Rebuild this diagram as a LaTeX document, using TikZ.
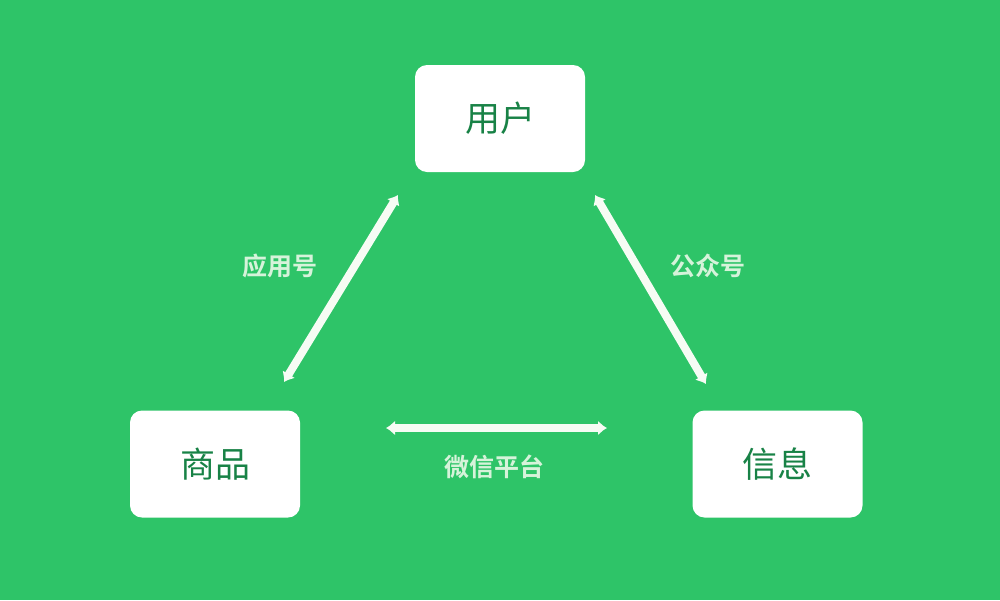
\documentclass[tikz,border=0pt]{standalone}
\usepackage{fontspec}
\newfontfamily\cjk{Noto Sans CJK SC}
\newfontfamily\cjkb{Noto Sans CJK SC Bold}
\usetikzlibrary{arrows.meta}
\definecolor{bg}{RGB}{46,196,104}
\definecolor{boxtext}{RGB}{24,130,70}
\definecolor{lbl}{RGB}{214,243,218}
\definecolor{arr}{RGB}{246,252,244}
\tikzset{
  card/.style={draw=none,fill=white,rounded corners=12pt,minimum width=170pt,minimum height=107pt,
    font=\cjk\fontsize{35}{38}\selectfont,text=boxtext},
  lab/.style={font=\cjkb\fontsize{25}{28}\selectfont,text=lbl},
  link/.style={draw=arr,line width=8pt,{Latex[length=9pt,width=15pt]}-{Latex[length=9pt,width=15pt]}}
}
\begin{document}
\begin{tikzpicture}[x=1pt,y=-1pt]
\fill[bg] (0,0) rectangle (1000,600);
\useasboundingbox (0,0) rectangle (1000,600);
\node[card] (user) at (500,118.5) {用户};
\node[card] (goods) at (215,464) {商品};
\node[card] (info) at (777.5,464) {信息};
\coordinate (a1) at (398,195);
\coordinate (a2) at (284,382);
\coordinate (b1) at (595,195);
\coordinate (b2) at (706,384);
\coordinate (c1) at (386,428);
\coordinate (c2) at (607,428);
\draw[link] (a1) -- (a2);
\draw[link] (b1) -- (b2);
\draw[link] (c1) -- (c2);
\node[lab] (l1) at (280,266) {应用号};
\node[lab] (l2) at (708,266) {公众号};
\node[lab] (l3) at (494,467) {微信平台};
\end{tikzpicture}
\end{document}
